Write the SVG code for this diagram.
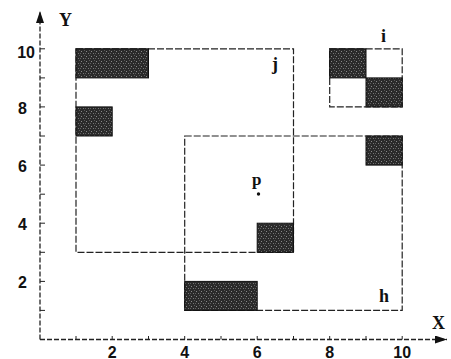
<svg xmlns="http://www.w3.org/2000/svg" width="451" height="359" viewBox="0 0 451 359">
<defs>
<pattern id="stip" width="5" height="5" patternUnits="userSpaceOnUse">
<rect width="5" height="5" fill="#2a2a2a"/>
<rect x="1" y="1" width="1" height="1" fill="#8a8a8a"/>
<rect x="3" y="3" width="1" height="1" fill="#777"/>
<rect x="4" y="0" width="1" height="1" fill="#5a5a5a"/>
<rect x="0" y="3" width="1" height="1" fill="#606060"/>
</pattern>
<marker id="arr" viewBox="0 0 12 8" refX="12" refY="4" markerWidth="12" markerHeight="8" markerUnits="userSpaceOnUse" orient="auto">
<path d="M0,0 L12,4 L0,8 Z" fill="#111"/>
</marker>
</defs>
<style>
.box{fill:none;stroke:#222;stroke-width:1.2;stroke-dasharray:7 2}
.axis{fill:none;stroke:#222;stroke-width:1.3;stroke-dasharray:5 2}
.tick{stroke:#222;stroke-width:1}
.cell{fill:url(#stip);stroke:#111;stroke-width:1}
.num{font-family:"Liberation Sans",Arial,sans-serif;font-weight:bold;font-size:16px;fill:#111}
.lab{font-family:"Liberation Serif","Times New Roman",serif;font-weight:bold;font-size:18px;fill:#111}
</style>
<rect width="451" height="359" fill="#fff"/>
<g id="connectors">
<line class="axis" x1="40" y1="339.5" x2="40" y2="11" marker-end="url(#arr)"/>
<line class="axis" x1="40" y1="339.5" x2="447" y2="339.5" marker-end="url(#arr)"/>
<g class="tick">
<line x1="40" y1="310.4" x2="45" y2="310.4"/>
<line x1="40" y1="281.4" x2="45" y2="281.4"/>
<line x1="40" y1="252.3" x2="45" y2="252.3"/>
<line x1="40" y1="223.2" x2="45" y2="223.2"/>
<line x1="40" y1="194.2" x2="45" y2="194.2"/>
<line x1="40" y1="165.1" x2="45" y2="165.1"/>
<line x1="40" y1="136" x2="45" y2="136"/>
<line x1="40" y1="106.9" x2="45" y2="106.9"/>
<line x1="40" y1="77.9" x2="45" y2="77.9"/>
<line x1="40" y1="48.8" x2="45" y2="48.8"/>
<line x1="76" y1="339.5" x2="76" y2="336"/>
<line x1="112.2" y1="339.5" x2="112.2" y2="336"/>
<line x1="148.5" y1="339.5" x2="148.5" y2="336"/>
<line x1="184.7" y1="339.5" x2="184.7" y2="336"/>
<line x1="221" y1="339.5" x2="221" y2="336"/>
<line x1="257.2" y1="339.5" x2="257.2" y2="336"/>
<line x1="293.5" y1="339.5" x2="293.5" y2="336"/>
<line x1="329.7" y1="339.5" x2="329.7" y2="336"/>
<line x1="366" y1="339.5" x2="366" y2="336"/>
<line x1="402.2" y1="339.5" x2="402.2" y2="336"/>
</g>
</g>
<g id="axis-labels">
<text class="lab" x="59" y="26">Y</text>
<text class="lab" x="432" y="329">X</text>
<text class="num" x="35" y="57.5" text-anchor="end">10</text>
<text class="num" x="27" y="113.5" text-anchor="end">8</text>
<text class="num" x="27" y="171.5" text-anchor="end">6</text>
<text class="num" x="27" y="229.5" text-anchor="end">4</text>
<text class="num" x="27" y="288" text-anchor="end">2</text>
<text class="num" x="112.2" y="357.5" text-anchor="middle">2</text>
<text class="num" x="184.7" y="357.5" text-anchor="middle">4</text>
<text class="num" x="257.2" y="357.5" text-anchor="middle">6</text>
<text class="num" x="329.7" y="357.5" text-anchor="middle">8</text>
<text class="num" x="402.2" y="357.5" text-anchor="middle">10</text>
</g>
<g id="j">
<rect class="box" x="76" y="48.8" width="217.5" height="203.5"/>
<text class="lab" x="272" y="70">j</text>
</g>
<g id="h">
<rect class="box" x="184.7" y="136" width="217.5" height="174.4"/>
<text class="lab" x="379" y="302">h</text>
</g>
<g id="i">
<rect class="box" x="329.7" y="48.8" width="72.5" height="58.1"/>
<text class="lab" x="381" y="42">i</text>
</g>
<g id="cell-1">
<rect class="cell" x="76" y="48.8" width="72.5" height="29.1"/>
</g>
<g id="cell-2">
<rect class="cell" x="76" y="106.9" width="36.2" height="29.1"/>
</g>
<g id="cell-3">
<rect class="cell" x="329.7" y="48.8" width="36.3" height="29.1"/>
</g>
<g id="cell-4">
<rect class="cell" x="366" y="77.9" width="36.2" height="29"/>
</g>
<g id="cell-5">
<rect class="cell" x="366" y="136" width="36.2" height="29.1"/>
</g>
<g id="cell-6">
<rect class="cell" x="257.2" y="223.2" width="36.3" height="29.1"/>
</g>
<g id="cell-7">
<rect class="cell" x="184.7" y="281.4" width="72.5" height="29"/>
</g>
<g id="p">
<text class="lab" x="252" y="185" style="font-size:17px">p</text>
<circle cx="258.5" cy="194" r="1.7" fill="#111"/>
</g>
</svg>
